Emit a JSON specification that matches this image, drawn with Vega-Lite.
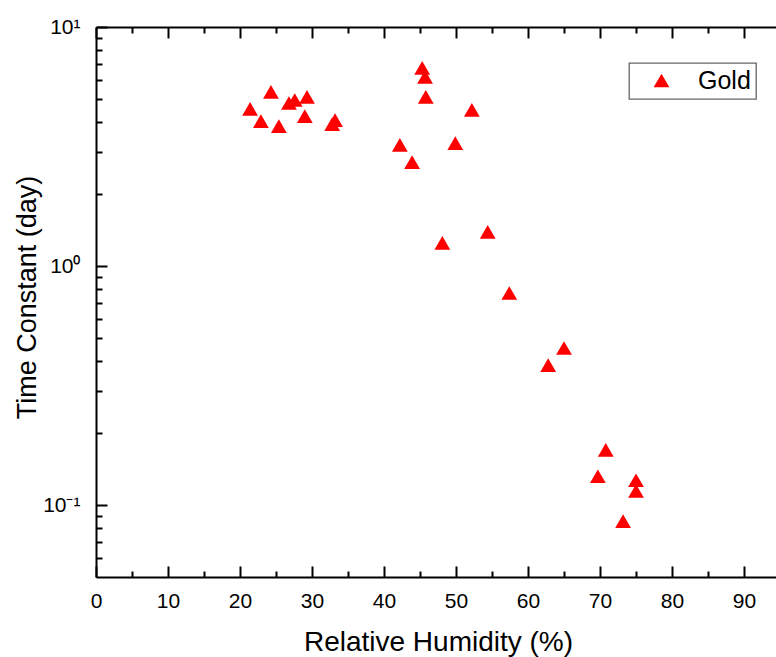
{
  "$schema": "https://vega.github.io/schema/vega-lite/v6.json",
  "width": 680,
  "height": 550,
  "autosize": {"type": "none"},
  "padding": {"left": 96, "top": 27, "right": 0, "bottom": 80},
  "background": "white",
  "config": {
    "view": {"stroke": null},
    "font": "Liberation Sans",
    "legend": {"strokeColor": "#666666", "strokeWidth": 1.3},
    "axis": {
      "grid": false,
      "labelFlush": false,
      "labelOverlap": false,
      "domainColor": "black",
      "domainWidth": 2,
      "tickColor": "black",
      "tickWidth": 2,
      "labelColor": "black",
      "labelFont": "Liberation Sans",
      "labelFontSize": 21,
      "titleFont": "Liberation Sans",
      "titleFontSize": 27,
      "titleFontWeight": "normal",
      "titleColor": "black"
    }
  },
  "data": {
    "values": [
      {"rh": 21.4, "tc": 4.54, "series": "Gold"},
      {"rh": 22.9, "tc": 4.04, "series": "Gold"},
      {"rh": 24.3, "tc": 5.35, "series": "Gold"},
      {"rh": 25.4, "tc": 3.85, "series": "Gold"},
      {"rh": 26.8, "tc": 4.81, "series": "Gold"},
      {"rh": 27.6, "tc": 4.95, "series": "Gold"},
      {"rh": 29.3, "tc": 5.10, "series": "Gold"},
      {"rh": 29.0, "tc": 4.24, "series": "Gold"},
      {"rh": 32.8, "tc": 3.92, "series": "Gold"},
      {"rh": 33.2, "tc": 4.08, "series": "Gold"},
      {"rh": 42.2, "tc": 3.21, "series": "Gold"},
      {"rh": 43.9, "tc": 2.72, "series": "Gold"},
      {"rh": 45.3, "tc": 6.74, "series": "Gold"},
      {"rh": 45.7, "tc": 6.18, "series": "Gold"},
      {"rh": 45.8, "tc": 5.10, "series": "Gold"},
      {"rh": 52.2, "tc": 4.50, "series": "Gold"},
      {"rh": 49.9, "tc": 3.27, "series": "Gold"},
      {"rh": 48.1, "tc": 1.25, "series": "Gold"},
      {"rh": 54.4, "tc": 1.39, "series": "Gold"},
      {"rh": 57.4, "tc": 0.771, "series": "Gold"},
      {"rh": 62.8, "tc": 0.385, "series": "Gold"},
      {"rh": 65.0, "tc": 0.454, "series": "Gold"},
      {"rh": 69.7, "tc": 0.132, "series": "Gold"},
      {"rh": 70.8, "tc": 0.170, "series": "Gold"},
      {"rh": 75.0, "tc": 0.127, "series": "Gold"},
      {"rh": 75.0, "tc": 0.1145, "series": "Gold"},
      {"rh": 73.2, "tc": 0.0857, "series": "Gold"}
    ]
  },
  "resolve": {"axis": {"x": "independent", "y": "independent"}},
  "layer": [
    {
      "mark": {"type": "point", "filled": true, "shape": "triangle-up", "size": 250, "opacity": 1},
      "encoding": {
        "x": {
          "field": "rh", "type": "quantitative",
          "scale": {"domain": [0, 94.44], "nice": false, "zero": false},
          "axis": {
            "orient": "bottom",
            "values": [0, 10, 20, 30, 40, 50, 60, 70, 80, 90],
            "tickSize": -11,
            "labelPadding": 24,
            "title": "Relative Humidity (%)",
            "titleFontSize": 28,
            "titleX": 342,
            "titleY": 73,
            "titleBaseline": "alphabetic",
            "titleAnchor": "middle"
          }
        },
        "y": {
          "field": "tc", "type": "quantitative",
          "scale": {"type": "log", "domain": [0.05, 10], "nice": false},
          "axis": {
            "orient": "left",
            "values": [0.1, 1, 10],
            "labelExpr": "datum.value >= 5 ? '10¹' : datum.value >= 0.5 ? '10⁰' : '10⁻¹'",
            "tickSize": -11,
            "labelPadding": 27,
            "title": "Time Constant (day)",
            "titleX": -61,
            "titleY": 270,
            "titleBaseline": "alphabetic",
            "titleAnchor": "middle"
          }
        },
        "color": {
          "field": "series", "type": "nominal",
          "scale": {"domain": ["Gold"], "range": ["#ff0000"]},
          "legend": {
            "orient": "none",
            "legendX": 533,
            "legendY": 36,
            "title": null,
            "symbolType": "triangle-up",
            "symbolSize": 250,
            "symbolStrokeWidth": 0,
            "padding": 5,
            "symbolOffset": 15,
            "labelOffset": 24,
            "labelFont": "Liberation Sans",
            "labelFontSize": 25,
            "labelColor": "black",
            "fillColor": "white"
          }
        }
      }
    },
    {
      "mark": {"type": "point", "opacity": 0},
      "encoding": {
        "x": {
          "field": "rh", "type": "quantitative",
          "axis": {
            "orient": "bottom",
            "values": [5, 15, 25, 35, 45, 55, 65, 75, 85],
            "tickSize": -6,
            "labels": false,
            "domain": false,
            "title": null
          }
        },
        "y": {
          "field": "tc", "type": "quantitative",
          "axis": {
            "orient": "left",
            "values": [0.06, 0.07, 0.08, 0.09, 0.2, 0.3, 0.4, 0.5, 0.6, 0.7, 0.8, 0.9, 2, 3, 4, 5, 6, 7, 8, 9],
            "tickSize": -6,
            "labels": false,
            "domain": false,
            "title": null
          }
        }
      }
    },
    {
      "mark": {"type": "point", "opacity": 0},
      "encoding": {
        "x": {
          "field": "rh", "type": "quantitative",
          "axis": {
            "orient": "top",
            "values": [0, 10, 20, 30, 40, 50, 60, 70, 80, 90],
            "tickSize": -11,
            "labels": false,
            "title": null
          }
        },
        "y": {"field": "tc", "type": "quantitative", "axis": null}
      }
    },
    {
      "mark": {"type": "point", "opacity": 0},
      "encoding": {
        "x": {
          "field": "rh", "type": "quantitative",
          "axis": {
            "orient": "top",
            "values": [5, 15, 25, 35, 45, 55, 65, 75, 85],
            "tickSize": -6,
            "labels": false,
            "domain": false,
            "title": null
          }
        },
        "y": {"field": "tc", "type": "quantitative", "axis": null}
      }
    }
  ]
}
